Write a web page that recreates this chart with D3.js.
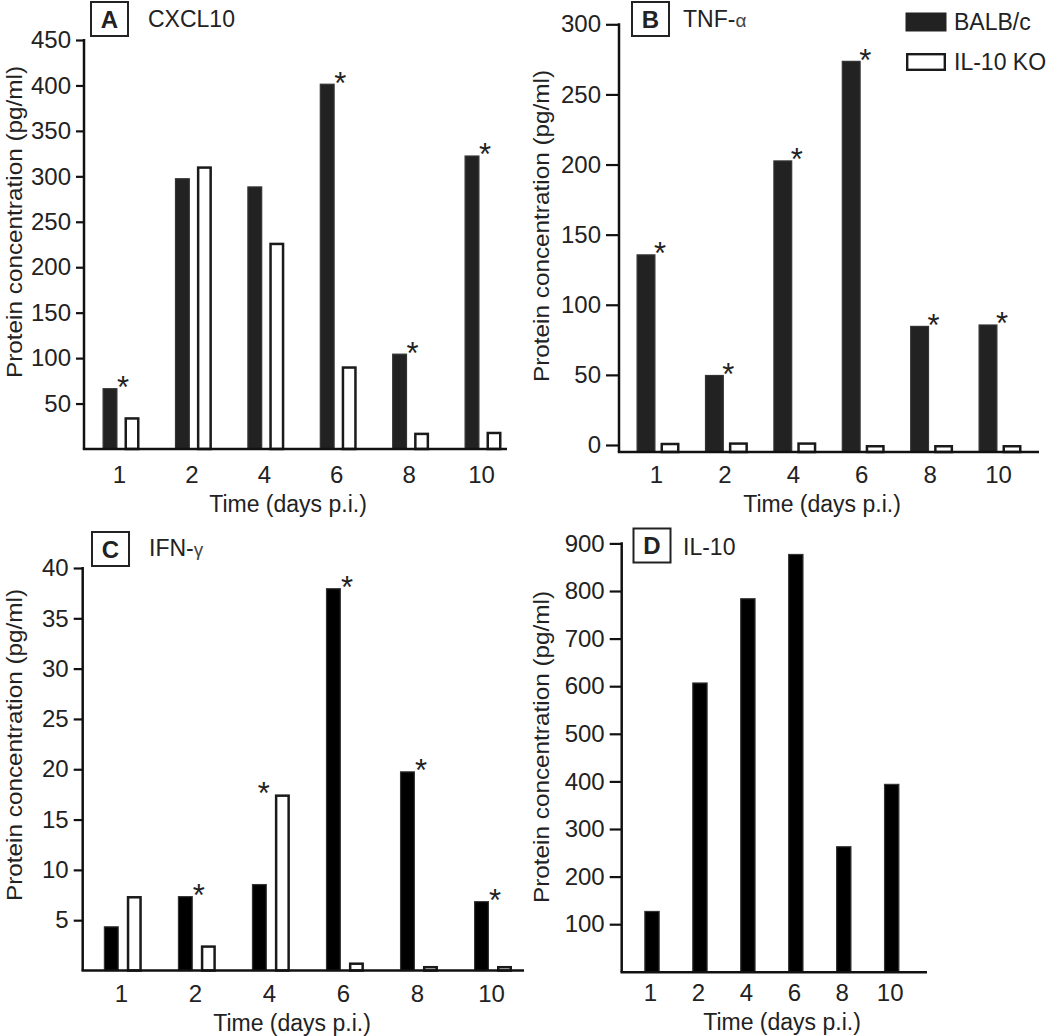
<!DOCTYPE html>
<html><head><meta charset="utf-8">
<script src="https://cdn.jsdelivr.net/npm/d3@7"></script>
<style>
body{margin:0;background:#fff}
svg{display:block}
text{font-family:"Liberation Sans",Arial,Helvetica,sans-serif;fill:#222}
</style>
</head><body>
<svg id="chart" width="1050" height="1036"></svg>
<script>
// ---- data ----
const days = ["1","2","4","6","8","10"];
const seriesNames = ["BALB/c","IL-10 KO"];
const cxcl10BALBc = [67,298,289,402,105,323];
const cxcl10KO    = [35,311,227,91,18,19];
const tnfBALBc    = [136,50,203,274,85,86];
const tnfKO       = [1.6,1.9,1.9,0,0,0];
const ifngBALBc   = [4.4,7.4,8.6,38,19.8,6.9];
const ifngKO      = [7.4,2.5,17.5,0.8,0.45,0.45];
const il10BALBc   = [128,608,785,878,264,395];
const ticksA = [50,100,150,200,250,300,350,400,450];
const ticksB = [0,50,100,150,200,250,300];
const ticksC = [5,10,15,20,25,30,35,40];
const ticksD = [100,200,300,400,500,600,700,800,900];
// significance marks: index of the series marked per day (null = none)
const starsA = [0,null,null,0,0,0];
const starsB = [0,0,0,0,0,0];
const starsC = [null,0,1,0,0,0];
const starsD = [null,null,null,null,null,null];
const yTitle = "Protein concentration (pg/ml)";
const xTitle = "Time (days p.i.)";

const svg = d3.select("#chart");
const FONT = 23;
const TICKFONT = 24;

const panels = [
  {letter:"A", name:"CXCL10", greek:null, series:[cxcl10BALBc,cxcl10KO], ticks:ticksA, stars:starsA, yMax:450,
   L:{ax:84, y0:449, yTop:40, axisY:449, xEnd:507, c0:121, c1:483, bw:15, gap:7, tick:8, lblY:483,
      titleX:288, titleY:511.5, ytX:21.5, ytY:222, box:[91,2], nameX:148, nameY:27, blackFill:"#222"}},
  {letter:"B", name:"TNF-", greek:"\u03b1", series:[tnfBALBc,tnfKO], ticks:ticksB, stars:starsB, yMax:300,
   L:{ax:619, y0:445, yTop:24.3, axisY:452, xEnd:1039, c0:658, c1:1000, bw:19, gap:5, tick:13, lblY:483,
      titleX:822, titleY:511.5, ytX:549, ytY:226, box:[632,2], nameX:683, nameY:27, blackFill:"#222"}},
  {letter:"C", name:"IFN-", greek:"\u03b3", series:[ifngBALBc,ifngKO], ticks:ticksC, stars:starsC, yMax:40,
   L:{ax:82.7, y0:970.5, yTop:568, axisY:970.5, xEnd:524, c0:122.8, c1:493, bw:15, gap:8, tick:9, lblY:1001.5,
      titleX:292, titleY:1031, ytX:21.5, ytY:745, box:[92,532], nameX:149, nameY:556, blackFill:"#000"}},
  {letter:"D", name:"IL-10", greek:null, series:[il10BALBc], ticks:ticksD, stars:starsD, yMax:900,
   L:{ax:621.7, y0:971.8, yTop:543.4, axisY:972.3, xEnd:927, c0:652, c1:891.7, bw:15.5, gap:0, tick:12, lblY:1001,
      titleX:782, titleY:1030, ytX:549, ytY:747, box:[633.5,528.5], nameX:683, nameY:555, blackFill:"#000"}}
];

panels.forEach(p => {
  const L = p.L;
  const g = svg.append("g");
  const y = d3.scaleLinear().domain([0, p.yMax]).range([L.y0, L.yTop]);
  const x = d3.scalePoint().domain(days).range([L.c0, L.c1]);

  // bars
  const nS = p.series.length;
  p.series.forEach((vals, si) => {
    const isBlack = si === 0;
    const sw = isBlack ? 1.2 : 2.5;
    g.selectAll(null).data(days).enter().append("rect")
      .attr("x", d => {
        const c = x(d);
        const left = nS === 1 ? c - L.bw/2 : (isBlack ? c - L.gap/2 - L.bw : c + L.gap/2);
        return left + sw/2;
      })
      .attr("y", (d,i) => y(vals[i]) + sw/2)
      .attr("width", L.bw - sw)
      .attr("height", (d,i) => Math.max(0, L.axisY - y(vals[i]) - sw/2))
      .attr("fill", isBlack ? L.blackFill : "#fff")
      .attr("stroke", isBlack ? "#333" : "#1a1a1a")
      .attr("stroke-width", sw);
  });

  // stars
  g.selectAll(null).data(days.filter((d,i)=>p.stars[i]!==null)).enter().append("text")
    .attr("x", d => {
      const i = days.indexOf(d), s = p.stars[i], c = x(d);
      return s === 0 ? c + 2 : c + L.gap/2 - 11;
    })
    .attr("y", d => {
      const i = days.indexOf(d), s = p.stars[i];
      return y(p.series[s][i]) + 10;
    })
    .attr("text-anchor","middle")
    .style("font-size","31px")
    .text("*");

  // y axis
  const ya = d3.axisLeft(y).tickValues(p.ticks).tickSize(L.tick).tickPadding(5).tickFormat(d3.format("d"));
  const yg = g.append("g").attr("transform",`translate(${L.ax},0)`).call(ya);
  yg.select(".domain").remove();
  yg.selectAll(".tick line").attr("stroke","#111").attr("stroke-width",2.2);
  yg.selectAll(".tick text").style("font-size",TICKFONT+"px").attr("fill","#222").attr("font-family",null);
  g.append("line").attr("x1",L.ax).attr("x2",L.ax).attr("y1",L.yTop-1.1).attr("y2",L.axisY)
    .attr("stroke","#111").attr("stroke-width",2.5);

  // x axis
  g.append("line").attr("x1",L.ax-1.2).attr("x2",L.xEnd).attr("y1",L.axisY).attr("y2",L.axisY)
    .attr("stroke","#111").attr("stroke-width",2.5);
  const xa = d3.axisBottom(x).tickSize(0).tickPadding(0);
  const xg = g.append("g").attr("transform",`translate(-2,0)`).call(xa);
  xg.select(".domain").remove();
  xg.selectAll(".tick text").attr("y", L.lblY).attr("dy", null)
    .style("font-size",TICKFONT+"px").attr("fill","#222").attr("font-family",null);

  // axis titles
  g.append("text").attr("x",L.titleX).attr("y",L.titleY).attr("text-anchor","middle")
    .style("font-size",FONT+"px").text(xTitle);
  g.append("text").attr("transform",`translate(${L.ytX},${L.ytY}) rotate(-90)`)
    .attr("text-anchor","middle").style("font-size","22px")
    .attr("textLength",312).attr("lengthAdjust","spacingAndGlyphs").text(yTitle);

  // panel label box + name
  g.append("rect").attr("x",L.box[0]).attr("y",L.box[1]).attr("width",37).attr("height",34)
    .attr("fill","none").attr("stroke","#222").attr("stroke-width",2);
  g.append("text").attr("x",L.box[0]+18.5).attr("y",L.box[1]+25.5).attr("text-anchor","middle")
    .style("font-size","24px").style("font-weight","bold").text(p.letter);
  const t = g.append("text").attr("x",L.nameX).attr("y",L.nameY).style("font-size",FONT+"px").text(p.name);
  if (p.greek) t.append("tspan").style("font-size","19px").attr("fill","#444").text(p.greek);
});

// legend (panel B)
const leg = svg.append("g");
seriesNames.forEach((s,i) => {
  const yy = 13 + i*40;
  leg.append("rect").attr("x", i===0?906:907.2).attr("y", i===0?yy:yy+1.2)
    .attr("width", i===0?40:37.6).attr("height", i===0?18:15.6)
    .attr("fill", i===0?"#222":"#fff").attr("stroke", i===0?"#222":"#1a1a1a").attr("stroke-width", i===0?1:2.4);
  leg.append("text").attr("x",954).attr("y",yy+17).style("font-size",FONT+"px").text(s);
});
</script>
</body></html>
